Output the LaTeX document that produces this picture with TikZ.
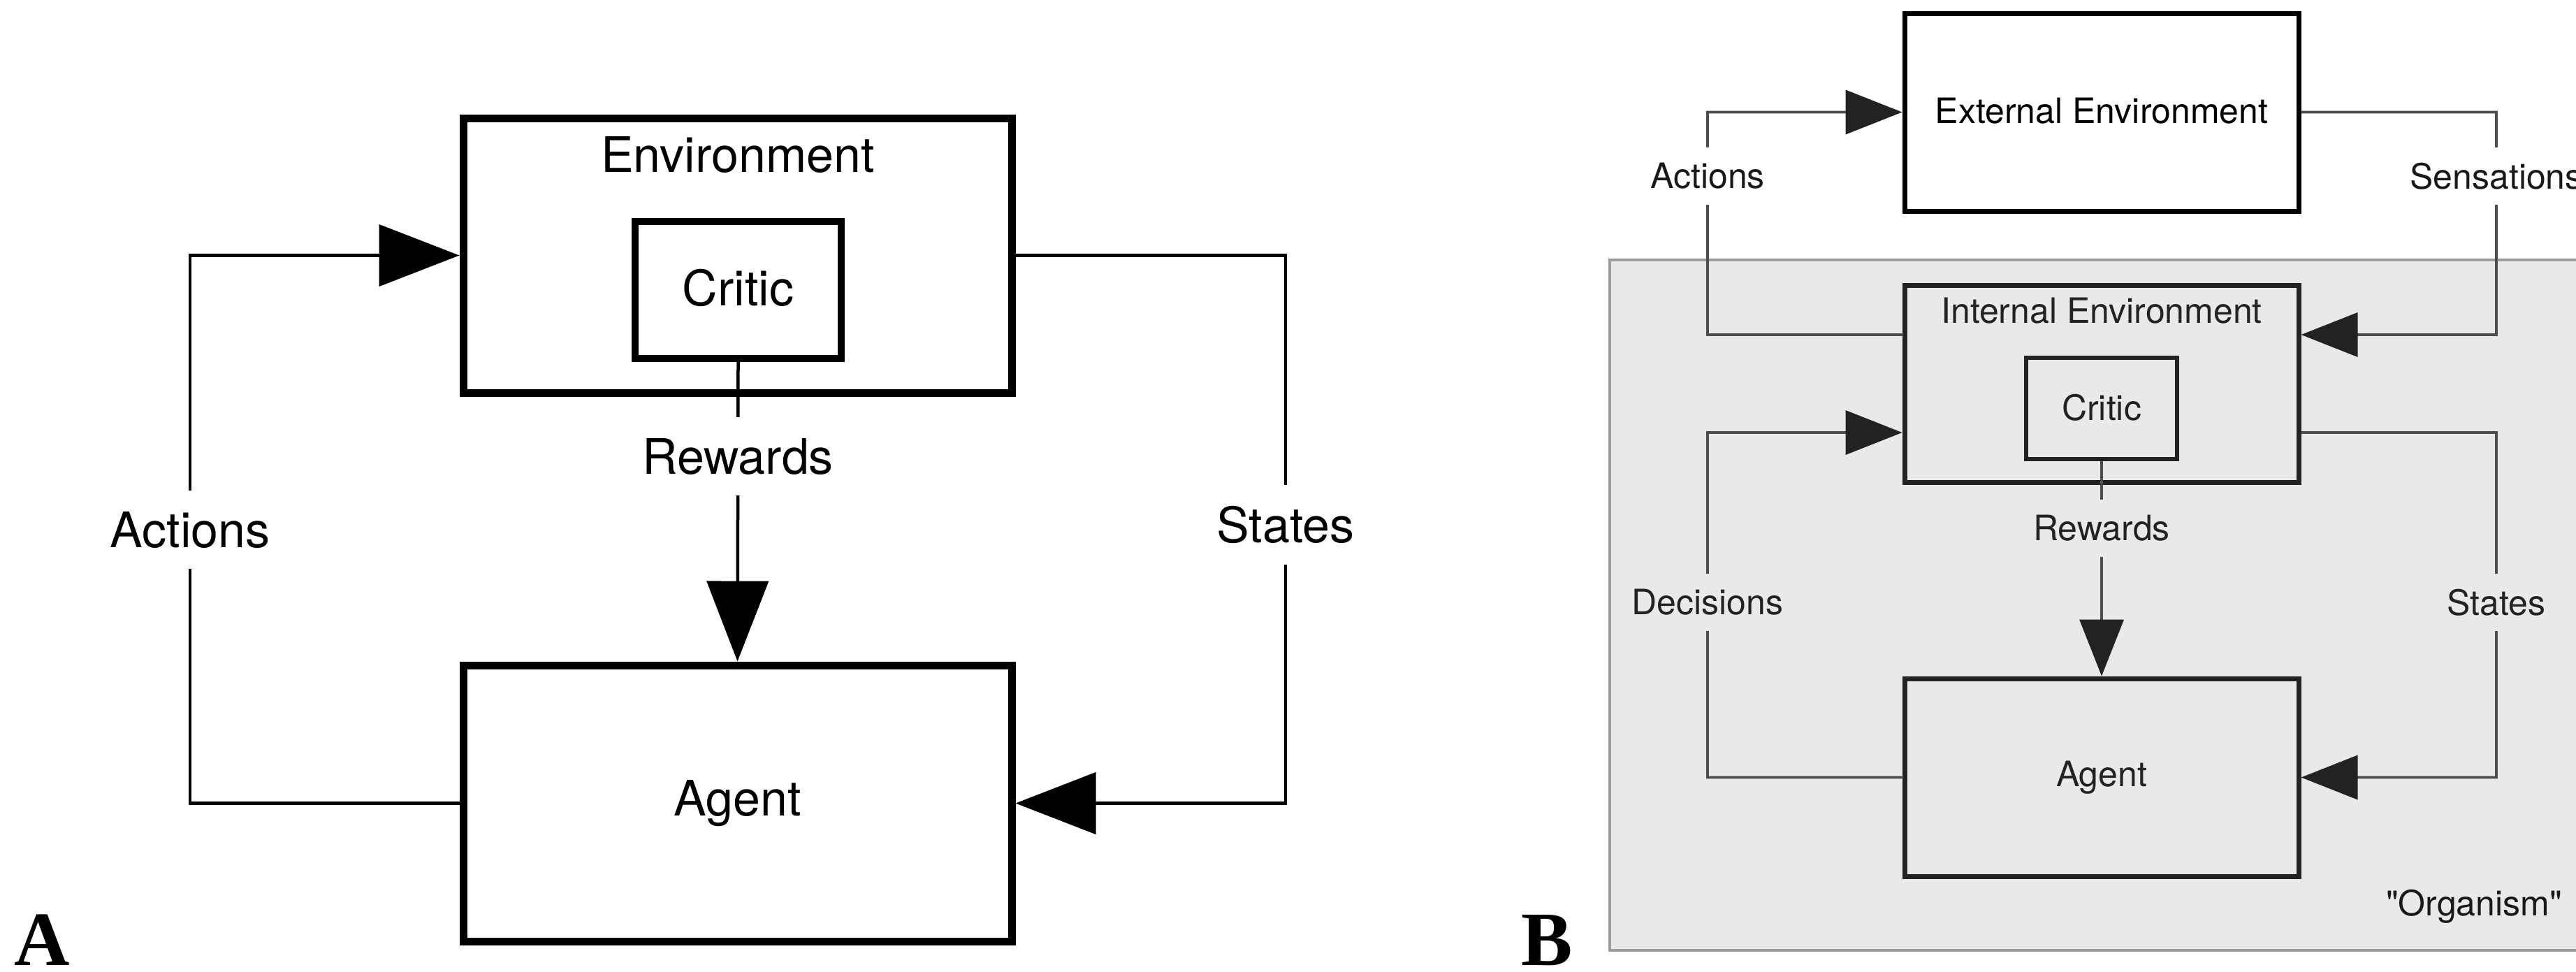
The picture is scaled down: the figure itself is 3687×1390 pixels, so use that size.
\documentclass[tikz,border=0pt]{standalone}
\usepackage{fontspec}
\setmainfont{TeX Gyre Heros}
\newfontfamily\plainfont{TeX Gyre Heros}[Ligatures=TeXOff]
\newfontfamily\panelfont{Liberation Serif}
\usetikzlibrary{arrows.meta}
\definecolor{bdark}{HTML}{222222}
\definecolor{bline}{HTML}{4D4D4D}
\definecolor{bgray}{HTML}{E9E9E9}
\definecolor{bedge}{HTML}{9C9C9C}
\begin{document}
\begin{tikzpicture}[x=0.1pt,y=-0.1pt,
  fA/.style={font=\fontsize{7pt}{8.4pt}\selectfont},
  fB/.style={font=\fontsize{5pt}{6pt}\selectfont},
  boxA/.style={draw=black, line width=1.1pt, inner sep=0pt, fA},
  critA/.style={draw=black, line width=1pt, inner sep=0pt, fA},
  boxB/.style={draw=bdark, line width=0.7pt, inner sep=0pt, fB, text=bdark},
  conA/.style={draw=black, line width=0.45pt},
  conB/.style={draw=bline, line width=0.38pt},
  tipA/.style={-{Triangle[length=11.5pt,width=8.8pt]}},
  tipB/.style={-{Triangle[length=8.1pt,width=6.3pt,color=bdark]}},
  lblA/.style={fA, fill=white, inner xsep=1pt, inner ysep=3pt},
  lblBw/.style={fB, fill=white, inner xsep=1pt, inner ysep=2.2pt, text=black!90},
  lblBg/.style={fB, fill=bgray, inner xsep=1pt, inner ysep=2.2pt, text=bdark},
  panel/.style={font=\panelfont\bfseries\fontsize{11pt}{12pt}\selectfont, inner sep=0pt, anchor=base west}
]
\useasboundingbox (0,0) rectangle (3687,1390);

% ---------------- Panel A ----------------
\node[boxA, minimum width=78.5pt, minimum height=39.3pt] (EnvA) at (1055.5,365.5) {};
\node[fA, anchor=base] (EnvAlbl) at (1056,246) {Environment};
\node[critA, minimum width=29.5pt, minimum height=19.6pt] (CriticA) at (1056.5,415) {\raisebox{0.7pt}{Critic}};
\node[boxA, minimum width=78.5pt, minimum height=39.5pt] (AgentA) at (1055.5,1149.5) {\raisebox{-0.3pt}{Agent}};

\coordinate (aA1) at (272,1149.5);
\coordinate (aA2) at (272,365.5);
\coordinate (sA1) at (1840,365.5);
\coordinate (sA2) at (1840,1149.5);

\draw[conA, tipA] (AgentA.west) -- (aA1) -- (aA2) -- (EnvA.west);
\draw[conA, tipA] (EnvA.east) -- (sA1) -- (sA2) -- (AgentA.east);
\draw[conA, tipA] (CriticA.south) -- (AgentA.north);

\node[lblA] (ActA) at (272,758) {Actions};
\node[lblA] (StA) at (1840,751) {States};
\node[lblA] (RewA) at (1056,653) {Rewards};

\node[panel] (PA) at (18,1381) {A};

% ---------------- Panel B ----------------
\draw[draw=bedge, fill=bgray, line width=0.4pt] (2304,372) rectangle (3800,1360);

\node[boxB, draw=black, text=black, minimum width=56.4pt, minimum height=28.3pt] (ExtEnv) at (3008,160.5) {\raisebox{0.4pt}{External Environment}};
\node[boxB, minimum width=56.4pt, minimum height=28.2pt] (IntEnv) at (3008,549) {};
\node[fB, anchor=base, text=bdark] (IntEnvlbl) at (3008,462) {Internal Environment};
\node[boxB, line width=0.65pt, minimum width=21.6pt, minimum height=14.5pt] (CriticB) at (3008,584.5) {\raisebox{0.4pt}{Critic}};
\node[boxB, minimum width=56.4pt, minimum height=28.3pt] (AgentB) at (3008,1112.5) {Agent};

\coordinate (aB1) at (2444,479);
\coordinate (aB2) at (2444,160.5);
\coordinate (snB1) at (3573,160.5);
\coordinate (snB2) at (3573,479);
\coordinate (dB1) at (2444,1112.5);
\coordinate (dB2) at (2444,619);
\coordinate (stB1) at (3573,619);
\coordinate (stB2) at (3573,1112.5);

\draw[conB, tipB] ([yshift=7pt]IntEnv.west) -- (aB1) -- (aB2) -- (ExtEnv.west);
\draw[conB, tipB] (ExtEnv.east) -- (snB1) -- (snB2) -- ([yshift=7pt]IntEnv.east);
\draw[conB, tipB] (AgentB.west) -- (dB1) -- (dB2) -- ([yshift=-7pt]IntEnv.west);
\draw[conB, tipB] ([yshift=-7pt]IntEnv.east) -- (stB1) -- (stB2) -- (AgentB.east);
\draw[conB, tipB] (CriticB.south) -- (AgentB.north);

\node[lblBw] (ActB) at (2444,252) {Actions};
\node[lblBw] (SenB) at (3573,252) {Sensations};
\node[lblBg] (DecB) at (2444,862) {Decisions};
\node[lblBg] (StB) at (3573,862) {States};
\node[lblBg] (RewB) at (3008,756) {Rewards};
\node[fB, text=black!90] (Org) at (3541,1297) {\plainfont "Organism"};

\node[panel] (PB) at (2175,1381) {B};
\end{tikzpicture}
\end{document}
